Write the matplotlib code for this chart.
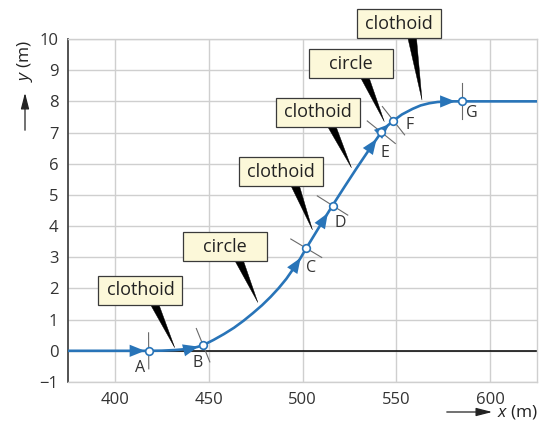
import numpy as np
import matplotlib
matplotlib.use('Agg')
import matplotlib.pyplot as plt
from matplotlib.patches import Polygon, Rectangle, FancyArrowPatch

plt.rcParams['font.family'] = ['Open Sans', 'DejaVu Sans']
plt.rcParams['mathtext.fontset'] = 'custom'
plt.rcParams['mathtext.it'] = 'Open Sans:italic'
plt.rcParams['mathtext.rm'] = 'Open Sans'

# ---- data ----
curve_x = [375, 418, 425, 432, 437, 441, 444, 447,
           452.6, 458.2, 463.5, 468.7, 473.6, 478.4, 483.0, 487.3, 491.4, 495.1, 498.7, 502,
           509, 516, 522.5, 529, 535.5, 542, 545.3, 548.5, 553, 558.7, 563, 567.6, 572,
           576.4, 580.5, 585, 625]
curve_y = [0, 0, 0.005, 0.025, 0.05, 0.085, 0.125, 0.18,
           0.35, 0.54, 0.74, 0.97, 1.21, 1.46, 1.73, 2.01, 2.31, 2.63, 2.95, 3.29,
           3.98, 4.66, 5.27, 5.87, 6.45, 7.01, 7.22, 7.38, 7.58, 7.76, 7.87, 7.94, 7.98,
           7.995, 8.0, 8.0, 8.0]

point_names = ['A', 'B', 'C', 'D', 'E', 'F', 'G']
point_x = [418, 447, 502, 516, 542, 548.5, 585]
point_y = [0, 0.18, 3.29, 4.66, 7.01, 7.38, 8.0]

arrow_x = [416, 444.5, 499, 513.5, 539.5, 546.3, 581.5]

seg_labels = ['clothoid', 'circle', 'clothoid', 'clothoid', 'circle', 'clothoid']
seg_box_x = [413.6, 458.7, 488.6, 508.0, 525.7, 551.3]
seg_box_y = [1.94, 3.34, 5.75, 7.65, 9.21, 10.49]
seg_tip_x = [431.9, 476.2, 505.3, 526.1, 543.6, 563.7]
seg_tip_y = [0.10, 1.55, 3.88, 5.87, 7.35, 8.04]

x_ticks = [400, 450, 500, 550, 600]
y_ticks = list(range(-1, 11))

# ---- layout ----
BLUE = '#2874b8'
W, H = 546, 423
fig = plt.figure(figsize=(W / 100, H / 100), dpi=100)
ax = fig.add_axes([68 / W, 41 / H, (537 - 68) / W, (382 - 39) / H])
ax.set_xlim(375, 625)
ax.set_ylim(-1, 10)
ax.set_xticks(x_ticks)
ax.set_yticks(y_ticks)
ax.grid(True, color='#cfcfcf', lw=1.0)
ax.set_axisbelow(True)
ax.tick_params(length=0, labelsize=12, colors='#333333', pad=7)
for s in ['top', 'right', 'bottom']:
    ax.spines[s].set_color('#cfcfcf')
    ax.spines[s].set_linewidth(1.0)
ax.spines['left'].set_color('#444444')
ax.spines['left'].set_linewidth(1.3)

ax.axhline(0, color='black', lw=1.1, zorder=2)
ax.plot(curve_x, curve_y, color=BLUE, lw=1.9, zorder=3, solid_capstyle='butt',
        solid_joinstyle='round')

fig.canvas.draw()
T = ax.transData
Ti = T.inverted()


def to_data(pts):
    return Ti.transform(np.asarray(pts))


cx = np.array(curve_x, float)
cy = np.array(curve_y, float)

# perpendicular tick lines at points
for px, py in zip(point_x, point_y):
    x0, x1 = px - 0.8, px + 0.8
    p0 = T.transform((x0, np.interp(x0, cx, cy)))
    p1 = T.transform((x1, np.interp(x1, cx, cy)))
    d = p1 - p0
    d = d / np.hypot(*d)
    n = np.array([-d[1], d[0]])
    c = T.transform((px, py))
    seg = to_data([c + 18 * n, c - 18 * n])
    ax.plot(seg[:, 0], seg[:, 1], color='#6a6a6a', lw=0.8, zorder=2.5)

# arrowheads along the curve
for axp in arrow_x:
    tip = (axp, np.interp(axp, cx, cy))
    bx = axp - 1.5
    base = (bx, np.interp(bx, cx, cy))
    arr = FancyArrowPatch(base, tip, arrowstyle='-|>,head_length=0.55,head_width=0.22',
                          mutation_scale=20, color=BLUE, lw=0, zorder=4,
                          shrinkA=0, shrinkB=0)
    ax.add_patch(arr)

# point markers
ax.plot(point_x, point_y, 'o', ms=5.5, mfc='white', mec=BLUE, mew=1.2, zorder=5)

label_offsets = [(-9, -17), (-5, -18), (5, -20), (8, -17), (4, -21), (16, -4), (10, -12)]
for name, px, py, off in zip(point_names, point_x, point_y, label_offsets):
    ax.annotate(name, (px, py), xytext=off, textcoords='offset pixels',
                ha='center', va='center', fontsize=11.5, color='#333333', zorder=6)

# callout boxes with wedge pointers
BW, BH = 84, 29
for lab, bxd, byd, txd, tyd in zip(seg_labels, seg_box_x, seg_box_y, seg_tip_x, seg_tip_y):
    c = T.transform((bxd, byd))
    tip = T.transform((txd, tyd))
    base_c = c + np.array([13, -BH / 2 + 3])
    wedge = to_data([base_c + [-4.5, 0], base_c + [4.5, 0], tip])
    ax.add_patch(Polygon(wedge, closed=True, fc='black', ec='black', lw=0.3,
                         zorder=6, clip_on=False))
    ll = to_data([c + [-BW / 2, -BH / 2], c + [BW / 2, BH / 2]])
    ax.add_patch(Rectangle(ll[0], ll[1][0] - ll[0][0], ll[1][1] - ll[0][1],
                           fc='#fcf8d9', ec='#3a3a3a', lw=0.9, zorder=7, clip_on=False))
    ax.text(bxd, byd, lab, ha='center', va='center', fontsize=13, color='#222222',
            zorder=8)

# axis titles with arrows
fig.text(25 / W, 1 - 61 / H, '$y$ (m)', rotation=90, ha='center', va='center',
         fontsize=12.5, color='#222222')
fig.add_artist(FancyArrowPatch((25 / W, 1 - 133 / H), (25 / W, 1 - 90 / H),
                               transform=fig.transFigure,
                               arrowstyle='-|>,head_length=0.7,head_width=0.18',
                               mutation_scale=14, color='#222222', lw=0.9))
fig.text(518 / W, 1 - 412 / H, '$x$ (m)', ha='center', va='center',
         fontsize=12.5, color='#222222')
fig.add_artist(FancyArrowPatch((444 / W, 1 - 412 / H), (495 / W, 1 - 412 / H),
                               transform=fig.transFigure,
                               arrowstyle='-|>,head_length=0.7,head_width=0.18',
                               mutation_scale=14, color='#222222', lw=0.9))

fig.savefig('out.png', dpi=100, facecolor='white')
